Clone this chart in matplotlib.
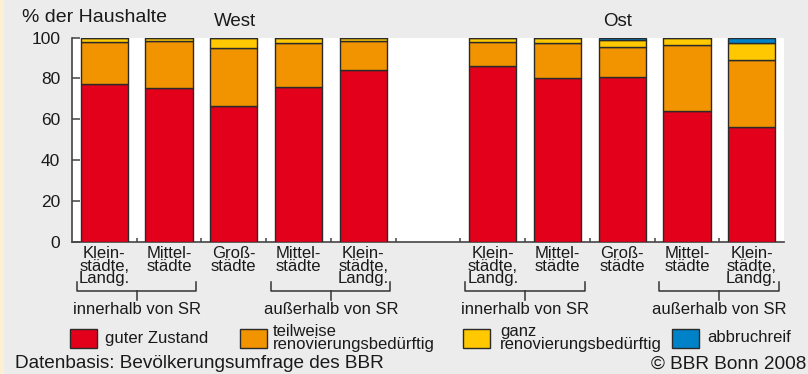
import matplotlib
matplotlib.use("Agg")
import matplotlib.pyplot as plt
import matplotlib.transforms as mtransforms
from matplotlib.patches import Rectangle
import numpy as np

plt.rcParams['font.family'] = ['Liberation Sans', 'DejaVu Sans']

# Anteile in % der Haushalte, West (Pos. 0-4) und Ost (Pos. 6-10)
kategorien = ["Klein-\nstädte,\nLandg.", "Mittel-\nstädte", "Groß-\nstädte",
              "Mittel-\nstädte", "Klein-\nstädte,\nLandg."]
kategorien = kategorien + kategorien
positionen = [0, 1, 2, 3, 4, 6, 7, 8, 9, 10]

guter_zustand = [77.5, 75.1, 66.4, 75.7, 84.2, 86.0, 80.3, 80.6, 64.0, 56.3]
teilweise = [20.2, 23.4, 28.5, 21.5, 14.1, 12.0, 17.1, 14.8, 32.2, 32.8]
ganz = [2.0, 1.3, 5.0, 2.5, 1.4, 1.7, 2.4, 3.6, 3.6, 8.3]
abbruchreif = [0.3, 0.2, 0.1, 0.3, 0.3, 0.3, 0.2, 1.0, 0.2, 2.6]

serien = [
    ("guter Zustand", guter_zustand, "#e2001a"),
    ("teilweise\nrenovierungsbedürftig", teilweise, "#f29400"),
    ("ganz\nrenovierungsbedürftig", ganz, "#ffc800"),
    ("abbruchreif", abbruchreif, "#0082c8"),
]

gruppen = ["innerhalb von SR", "außerhalb von SR"] * 2
gruppen_bereich = [(0, 1), (3, 4), (6, 7), (9, 10)]

W, H = 808, 374
fig = plt.figure(figsize=(W / 100, H / 100), dpi=100)
fig.patch.set_facecolor("#ececec")
fig.add_artist(Rectangle((0, 0), 4 / W, 1, transform=fig.transFigure,
                         color="#fcefd2", lw=0))

ax = fig.add_axes([72 / W, 1 - 242 / H, (784 - 72) / W, (242 - 37.5) / H])
ax.set_facecolor("white")

unten = np.zeros(len(positionen))
for name, werte, farbe in serien:
    ax.bar(positionen, werte, bottom=unten, width=0.73, color=farbe,
           edgecolor="#2a2a2a", linewidth=1.0, zorder=3)
    unten += np.array(werte)

ax.set_xlim(-0.5, 10.5)
ax.set_ylim(0, 100)
ax.set_yticks(np.arange(0, 101, 20))
ax.set_xticks(np.arange(0.5, 10.5, 1))
ax.set_xticklabels([])
ax.tick_params(axis="y", direction="in", length=6, width=1.1, color="#444",
               pad=8.5, labelsize=12.5, labelcolor="#1a1a1a")
ax.tick_params(axis="x", direction="in", length=3, width=1.1, color="#444")
for s in ["top", "right"]:
    ax.spines[s].set_visible(False)
for s in ["left", "bottom"]:
    ax.spines[s].set_color("#444")
    ax.spines[s].set_linewidth(1.2)

# x in Datenkoordinaten, y in Pixeln von oben
bt = mtransforms.blended_transform_factory(ax.transData, fig.transFigure)
def fy(px):
    return 1 - px / H

for x, lab in zip(positionen, kategorien):
    fig.text(x, fy(246), lab, transform=bt, ha="center", va="top",
             fontsize=12, linespacing=0.8, color="#1a1a1a")

for (a, b), g in zip(gruppen_bereich, gruppen):
    x0, x1 = a - 0.43, b + 0.42
    xm = (a + b) / 2
    fig.add_artist(plt.Line2D([x0, x0, x1, x1], [fy(281.5), fy(291), fy(291), fy(281.5)],
                              transform=bt, color="#333", lw=1.1))
    fig.add_artist(plt.Line2D([xm, xm], [fy(291), fy(300)], transform=bt,
                              color="#333", lw=1.1))
    fig.text(xm, fy(309), g, transform=bt, ha="center", va="center",
             fontsize=12, color="#1a1a1a")

# Kopfzeile
schmal = ['Liberation Sans Narrow', 'Liberation Sans']
fig.text(22 / W, fy(18), "% der Haushalte", family=schmal, fontsize=14,
         ha="left", va="center", color="#1a1a1a")
fig.text(235 / W, fy(22), "West", family=schmal, fontsize=13.5,
         ha="center", va="center", color="#1a1a1a")
fig.text(618 / W, fy(22), "Ost", family=schmal, fontsize=13.5,
         ha="center", va="center", color="#1a1a1a")

# Legende
leg_x = [(70, 105), (240, 273), (463, 500), (672, 707)]
for (px, tx), (name, werte, farbe) in zip(leg_x, serien):
    fig.add_artist(Rectangle((px / W, fy(347.5)), 27 / W, 19 / H,
                             transform=fig.transFigure, facecolor=farbe,
                             edgecolor="#2a2a2a", lw=1.0))
    fig.text(tx / W, fy(338), name, ha="left", va="center", fontsize=12,
             linespacing=0.78, color="#1a1a1a")

fig.text(15 / W, fy(364), "Datenbasis: Bevölkerungsumfrage des BBR",
         ha="left", va="center", fontsize=13.7, color="#1a1a1a")
fig.text(806 / W, fy(364), "© BBR Bonn 2008", ha="right", va="center",
         fontsize=13.7, color="#1a1a1a")

fig.savefig("out.png", dpi=100, facecolor=fig.get_facecolor())
